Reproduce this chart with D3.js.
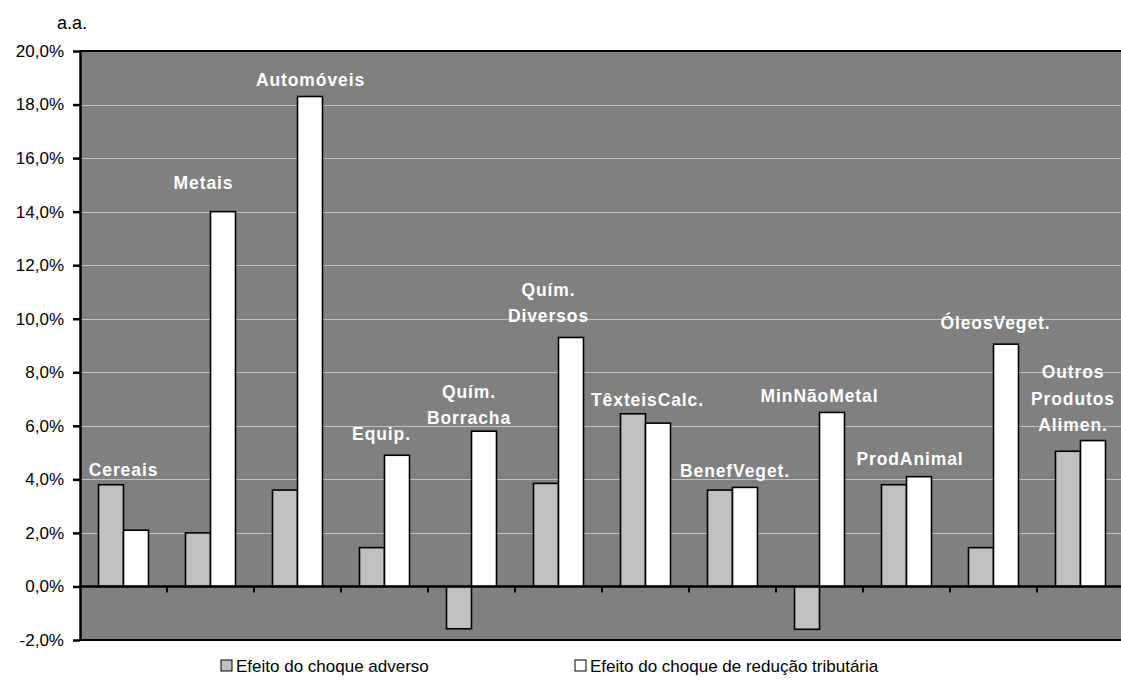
<!DOCTYPE html>
<html>
<head>
<meta charset="utf-8">
<script src="https://cdn.jsdelivr.net/npm/d3@7"></script>
<style>
  html, body { margin: 0; padding: 0; background: #fff; }
  svg { display: block; font-family: "Liberation Sans", Arial, sans-serif; }
</style>
</head>
<body>
<svg id="chart" width="1121" height="682"></svg>
<script>
// ---- data ----
const categories = ["Cereais", "Metais", "Automóveis", "Equip.", "Quím. Borracha", "Quím. Diversos",
  "TêxteisCalc.", "BenefVeget.", "MinNãoMetal", "ProdAnimal", "ÓleosVeget.", "Outros Produtos Alimen."];
const labelLines = [["Cereais"], ["Metais"], ["Automóveis"], ["Equip."], ["Quím.", "Borracha"], ["Quím.", "Diversos"],
  ["TêxteisCalc."], ["BenefVeget."], ["MinNãoMetal"], ["ProdAnimal"], ["ÓleosVeget."], ["Outros", "Produtos", "Alimen."]];
const efeitoAdverso = [3.8, 2.0, 3.6, 1.45, -1.58, 3.85, 6.45, 3.6, -1.6, 3.8, 1.45, 5.05];
const efeitoReducao = [2.1, 14.0, 18.3, 4.9, 5.8, 9.3, 6.1, 3.7, 6.5, 4.1, 9.05, 5.45];
const seriesNames = ["Efeito do choque adverso", "Efeito do choque de redução tributária"];
const yTickValues = [-2, 0, 2, 4, 6, 8, 10, 12, 14, 16, 18, 20];
const unitLabel = "a.a.";

// ---- layout (not data) ----
const labelDx = [0, -7, 13, -3, -2.5, -10, 2, 2.5, 0, 3.5, 2, -7.5];
const labelLift = [8.6, 23, 11, 15, 6.7, 15.3, 8, 10.6, 10.6, 11.7, 15.3, 9.3];
const colors = ["#c0c0c0", "#ffffff"];

const svg = d3.select("#chart");
const plot = { left: 80, top: 51, right: 1124, bottom: 640 };

const x0 = d3.scaleBand().domain(categories).range([plot.left, plot.right]).padding(0);
const groupW = 50;
const x1 = d3.scaleBand().domain([0, 1]).range([(x0.bandwidth() - groupW) / 2, (x0.bandwidth() + groupW) / 2]).padding(0);
const y = d3.scaleLinear().domain([-2, 20]).range([plot.bottom, plot.top]);

// background
svg.append("rect").attr("x", plot.left).attr("y", plot.top)
  .attr("width", plot.right - plot.left).attr("height", plot.bottom - plot.top)
  .attr("fill", "#808080");

// gridlines
svg.append("g").selectAll("line").data(yTickValues.filter(d => d > 0 && d < 20)).join("line")
  .attr("x1", plot.left).attr("x2", plot.right)
  .attr("y1", d => Math.round(y(d)) + 0.5).attr("y2", d => Math.round(y(d)) + 0.5)
  .attr("stroke", "#c0c0c0").attr("stroke-width", 1);

// bars
const data = categories.map((c, i) => ({ c, i, vals: [efeitoAdverso[i], efeitoReducao[i]] }));
const groups = svg.append("g").selectAll("g").data(data).join("g")
  .attr("transform", d => `translate(${x0(d.c)},0)`);
groups.selectAll("rect").data(d => d.vals.map((v, k) => ({ v, k }))).join("rect")
  .attr("x", d => x1(d.k))
  .attr("width", x1.bandwidth())
  .attr("y", d => y(Math.max(0, d.v)))
  .attr("height", d => Math.abs(y(d.v) - y(0)))
  .attr("fill", d => colors[d.k])
  .attr("stroke", "#000").attr("stroke-width", 1.6);

// zero line
svg.append("line").attr("x1", plot.left).attr("x2", plot.right)
  .attr("y1", y(0)).attr("y2", y(0)).attr("stroke", "#000").attr("stroke-width", 2.5);
// category ticks
svg.append("g").selectAll("line").data(categories.slice(1)).join("line")
  .attr("x1", d => x0(d)).attr("x2", d => x0(d))
  .attr("y1", y(0)).attr("y2", y(0) + 6)
  .attr("stroke", "#000").attr("stroke-width", 2);

// borders top/bottom
svg.append("line").attr("x1", plot.left).attr("x2", plot.right)
  .attr("y1", plot.top).attr("y2", plot.top).attr("stroke", "#000").attr("stroke-width", 2);
svg.append("line").attr("x1", plot.left).attr("x2", plot.right)
  .attr("y1", plot.bottom).attr("y2", plot.bottom).attr("stroke", "#000").attr("stroke-width", 2);

// y axis
const fmt = d => d.toFixed(1).replace(".", ",") + "%";
const yAxis = svg.append("g").attr("transform", `translate(${plot.left},0)`)
  .call(d3.axisLeft(y).tickValues(yTickValues).tickFormat(fmt).tickSize(7).tickSizeOuter(0).tickPadding(9));
yAxis.select(".domain").attr("stroke", "#000").attr("stroke-width", 2.5);
yAxis.selectAll(".tick line").attr("stroke", "#000").attr("stroke-width", 2.5);
yAxis.selectAll(".tick text").attr("font-size", 17).attr("fill", "#000")
  .attr("font-family", "'Liberation Sans', Arial, sans-serif");

// unit label
svg.append("text").attr("x", 57).attr("y", 29).attr("font-size", 18).attr("fill", "#000").text(unitLabel);

// data category labels
const lab = svg.append("g").selectAll("text").data(data).join("text")
  .attr("text-anchor", "middle")
  .attr("font-size", 17.5).attr("font-weight", "bold").attr("fill", "#fff")
  .attr("letter-spacing", 0.9)
  .attr("transform", d => {
    const top = y(Math.max(d.vals[0], d.vals[1], 0));
    return `translate(${x0(d.c) + x0.bandwidth() / 2 + labelDx[d.i]},${top - labelLift[d.i]})`;
  });
lab.selectAll("tspan").data(d => labelLines[d.i].map((t, j, arr) => ({ t, off: (j - arr.length + 1) * 26.5 })))
  .join("tspan").attr("x", 0).attr("y", d => d.off).text(d => d.t);

// legend
const legendX = [221, 575];
const leg = svg.append("g").selectAll("g").data(seriesNames).join("g")
  .attr("transform", (d, i) => `translate(${legendX[i]},660)`);
leg.append("rect").attr("width", 11).attr("height", 11)
  .attr("fill", (d, i) => colors[i]).attr("stroke", "#000").attr("stroke-width", 1);
leg.append("text").attr("x", 15).attr("y", 12).attr("font-size", 17).attr("fill", "#000").text(d => d);
</script>
</body>
</html>
